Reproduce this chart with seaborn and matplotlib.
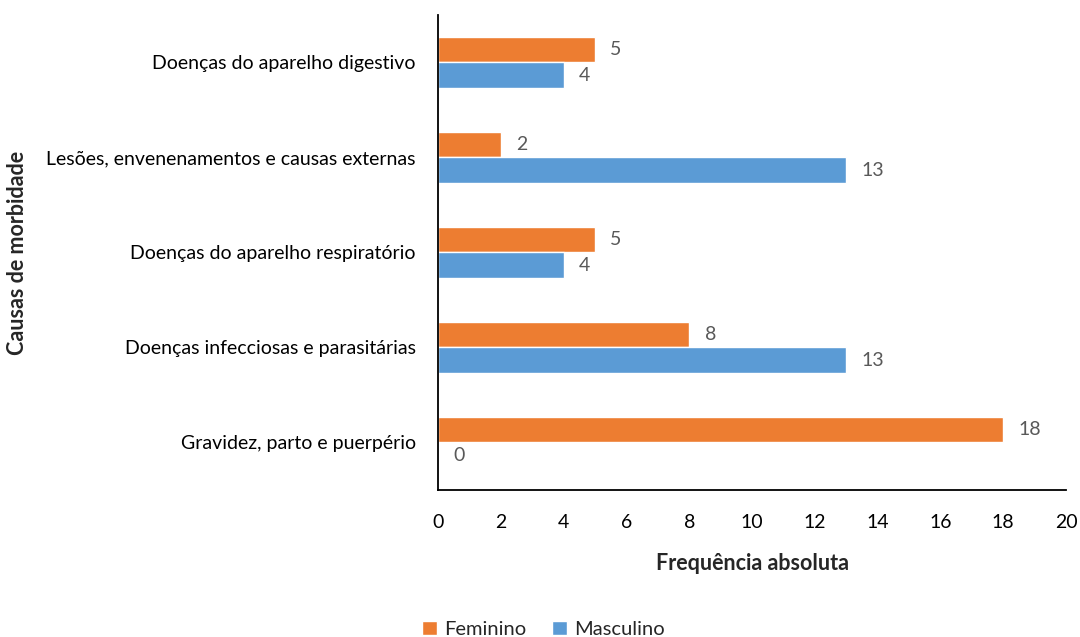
import matplotlib
matplotlib.use("Agg")
import matplotlib.pyplot as plt
import seaborn as sns
import pandas as pd

causas = [
    "Doenças do aparelho digestivo",
    "Lesões, envenenamentos e causas externas",
    "Doenças do aparelho respiratório",
    "Doenças infecciosas e parasitárias",
    "Gravidez, parto e puerpério",
]
feminino = [5, 2, 5, 8, 18]
masculino = [4, 13, 4, 13, 0]
sexos = ["Feminino", "Masculino"]
cores = ["#ED7D31", "#5B9BD5"]
xticks = list(range(0, 21, 2))

df = pd.DataFrame({
    "Causa": causas * 2,
    "Sexo": ["Feminino"] * len(causas) + ["Masculino"] * len(causas),
    "Valor": feminino + masculino,
})

sns.set_style("white")
plt.rcParams["font.family"] = ["Lato", "DejaVu Sans"]

fig = plt.figure(figsize=(10.8, 6.37), dpi=100)
ax = fig.add_axes([0.4056, 0.2308, 0.5815, 0.7457])

sns.barplot(data=df, x="Valor", y="Causa", hue="Sexo", order=causas,
            hue_order=sexos, palette=cores, orient="h", width=0.53,
            saturation=1, ax=ax, legend=True)

for cont in ax.containers:
    ax.bar_label(cont, fmt="%d", padding=11, fontsize=14, color="#595959")

ax.set_xlim(0, 20)
ax.set_ylim(4.5, -0.5)
ax.set_xticks(xticks)
ax.set_xticklabels([str(t) for t in xticks], fontsize=14, color="#000000")
ax.tick_params(axis="x", length=0, pad=17)
ax.tick_params(axis="y", length=0, pad=16, labelsize=14)
for lbl in ax.get_yticklabels():
    lbl.set_color("#000000")

ax.set_xlabel("Frequência absoluta", fontsize=15.5, fontweight="bold", labelpad=16)
ax.set_ylabel("Causas de morbidade", fontsize=15.5, fontweight="bold")

for side in ["top", "right"]:
    ax.spines[side].set_visible(False)
for side in ["left", "bottom"]:
    ax.spines[side].set_color("#000000")
    ax.spines[side].set_linewidth(1.3)

handles, labels = ax.get_legend_handles_labels()
ax.legend_.remove()
fig.legend(handles, labels, loc="lower center", bbox_to_anchor=(0.503, -0.03),
           ncol=2, frameon=False, fontsize=14.5, handlelength=0.75,
           handleheight=0.75, handletextpad=0.35, columnspacing=1.3)

ax.yaxis.set_label_coords(-0.653, 0.5)

fig.savefig("out.png", dpi=100)
